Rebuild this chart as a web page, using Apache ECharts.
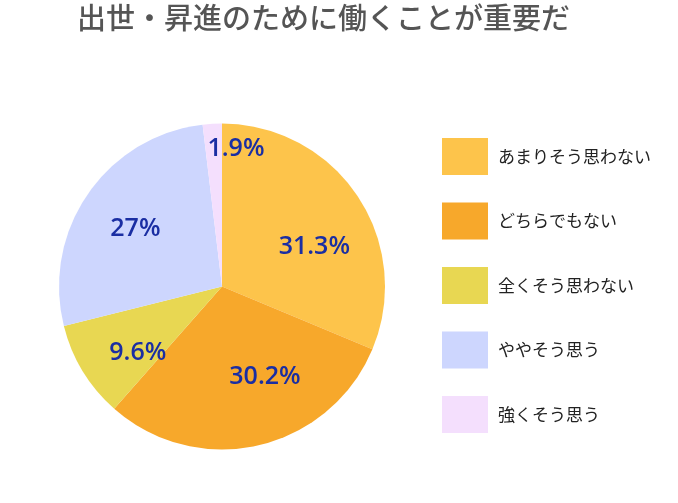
<!DOCTYPE html>
<html><head><meta charset="utf-8">
<script src="https://cdn.jsdelivr.net/npm/echarts@6/dist/echarts.min.js"></script>
<style>html,body{margin:0;padding:0;background:#fff}#c{width:678px;height:503px}</style>
</head><body><div id="c"></div>
<script>
const titleText = '出世・昇進のために働くことが重要だ';
const categories = ['あまりそう思わない', 'どちらでもない', '全くそう思わない', 'ややそう思う', '強くそう思う'];
const values = [31.3, 30.2, 9.6, 27, 1.9];
const colors = ['#FDC44B', '#F7A82B', '#E8D752', '#CDD6FE', '#F4DFFD'];
const labelOffsets = [[22, 7], [24, 8], [-12, 22], [-17, -10], [19, -53]];

const chart = echarts.init(document.getElementById('c'), null, {renderer: 'canvas'});
chart.setOption({
  animation: false,
  backgroundColor: '#fff',
  title: {
    text: titleText, left: 77, top: 3, padding: 0,
    textStyle: {fontFamily: 'Noto Sans CJK JP', fontSize: 29, fontWeight: 500, color: '#555555'}
  },
  legend: {
    orient: 'vertical', left: 442, top: 138, padding: 0,
    itemWidth: 46, itemHeight: 37, itemGap: 27.5, icon: 'rect',
    data: categories,
    textStyle: {fontFamily: 'Noto Sans CJK JP', fontSize: 17, color: '#222222', padding: [0, 0, 0, 5]}
  },
  series: [{
    type: 'pie',
    center: [222, 286.5], radius: [0, 163],
    startAngle: 90, clockwise: true,
    avoidLabelOverlap: false,
    label: {
      show: true, position: 'inside', formatter: '{c}%',
      fontFamily: 'Open Sans', fontSize: 25, fontWeight: 600, color: '#1A2EA3'
    },
    labelLine: {show: false},
    itemStyle: {borderWidth: 0},
    emphasis: {disabled: true},
    data: categories.map((name, i) => ({
      name, value: values[i],
      itemStyle: {color: colors[i]},
      label: {offset: labelOffsets[i]}
    }))
  }]
});
</script></body></html>
